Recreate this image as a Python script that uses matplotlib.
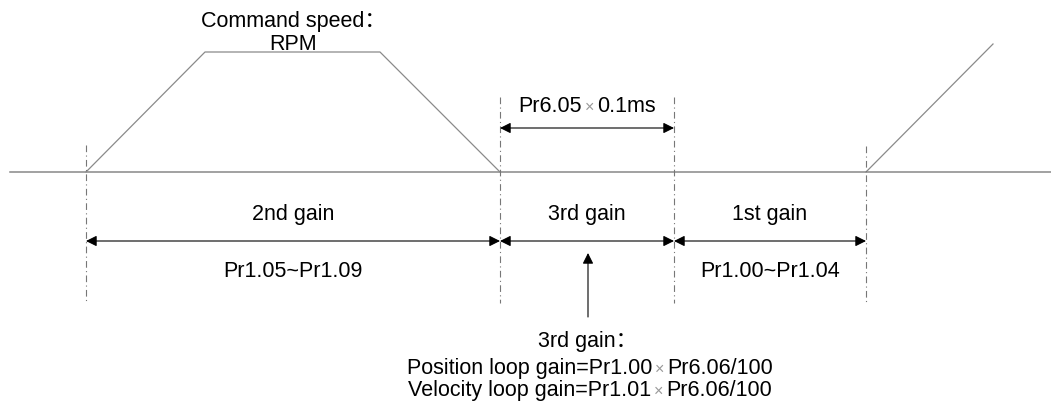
import matplotlib.pyplot as plt

plt.rcParams['font.family'] = ['Liberation Sans', 'Noto Sans CJK SC', 'DejaVu Sans']

# Diagram geometry (pixel space of the drawing)
base_y = 173
base_x = [10, 1051]
speed_x = [86, 205, 380, 500]
speed_y = [173, 53, 53, 173]
ramp_x = [866, 993]
ramp_y = [173, 45]
bounds_x = [86, 500, 674, 866]
bounds_top = [146, 98, 98, 147]
bounds_bottom = 304
gain_labels = ['2nd gain', '3rd gain', '1st gain']
param_labels = ['Pr1.05~Pr1.09', '', 'Pr1.00~Pr1.04']
time_label = ['Pr6.05', '0.1ms']
speed_label = ['Command speed\uff1a', 'RPM']
note_title = '3rd gain\uff1a'
note_lines = [['Position loop gain=Pr1.00', 'Pr6.06/100'],
              ['Velocity loop gain=Pr1.01', 'Pr6.06/100']]

fig = plt.figure(figsize=(10.51, 4.06), dpi=100)
ax = fig.add_axes([0, 0, 1, 1])
ax.set_xlim(0, 1051)
ax.set_ylim(406, 0)
ax.axis('off')
renderer = fig.canvas.get_renderer()

fs = 15.5
grey = '#8a8a8a'


def times_text(xc, y, parts):
    # text pieces joined by a small light grey multiplication sign
    pieces = [(parts[0], fs, 'black'), ('\u00d7', fs * 0.75, '#999999'),
              (parts[1], fs, 'black')]
    gap = 3
    objs = [ax.text(0, y, s, fontsize=f, color=c, ha='left', va='baseline')
            for s, f, c in pieces]
    widths = [o.get_window_extent(renderer).width for o in objs]
    total = sum(widths) + 2 * gap
    x = xc - total / 2
    for o, w in zip(objs, widths):
        o.set_x(x)
        x += w + gap


def label(x, y, s):
    ax.text(x, y, s, fontsize=fs, ha='center', va='baseline')


# baseline and speed profile
ax.plot(base_x, [base_y, base_y], color='#888888', lw=1.1)
ax.plot(speed_x, speed_y, color=grey, lw=0.9)
ax.plot(ramp_x, ramp_y, color=grey, lw=0.9)

# boundary lines
for x, top in zip(bounds_x, bounds_top):
    ax.plot([x, x], [top, bounds_bottom], color='#777777', lw=0.8,
            ls=(0, (6, 3, 1, 3)))

arrow = dict(arrowstyle='<|-|>', color='black', lw=0.8,
             mutation_scale=16, shrinkA=0, shrinkB=0)

# top time span
ax.annotate('', xy=(bounds_x[1], 129), xytext=(bounds_x[2], 129), arrowprops=arrow)
times_text((bounds_x[1] + bounds_x[2]) / 2, 112, time_label)

# gain zones
for i in range(3):
    x0, x1 = bounds_x[i], bounds_x[i + 1]
    ax.annotate('', xy=(x0, 242), xytext=(x1, 242), arrowprops=arrow)
    xc = (x0 + x1) / 2
    label(xc, 220, gain_labels[i])
    if param_labels[i]:
        label(xc, 277, param_labels[i])

# pointer to 3rd gain
ax.annotate('', xy=(588, 254), xytext=(588, 318),
            arrowprops=dict(arrowstyle='-|>', color='black', lw=0.8,
                            mutation_scale=16, shrinkA=0, shrinkB=0))

label(293, 27, speed_label[0])
label(293, 50, speed_label[1])

label(588, 347, note_title)
for parts, y in zip(note_lines, [374, 396]):
    times_text(590, y, parts)

fig.savefig('out.png', dpi=100)
